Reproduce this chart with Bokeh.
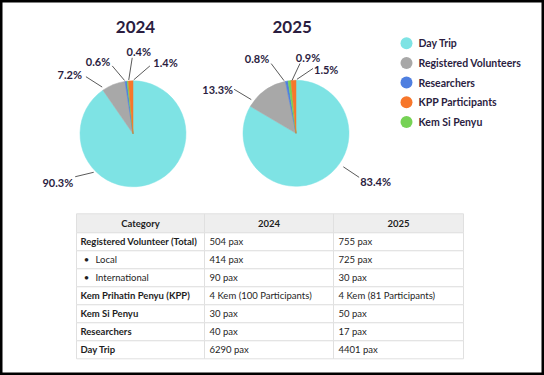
import math
from bokeh.plotting import figure
from bokeh.models import Range1d
from bokeh.core.properties import value
from bokeh.embed import file_html
from bokeh.resources import INLINE

# ---------------- data ----------------
years = ["2024", "2025"]
categories = ["Day Trip", "Registered Volunteers", "Researchers", "Kem Si Penyu", "KPP Participants"]
pct_2024 = [90.3, 7.2, 0.6, 0.4, 1.4]
pct_2025 = [83.4, 13.3, 0.8, 0.9, 1.5]
legend_order = ["Day Trip", "Registered Volunteers", "Researchers", "KPP Participants", "Kem Si Penyu"]

table_header = ["Category", "2024", "2025"]
table_category = ["Registered Volunteer (Total)", "Local", "International",
                  "Kem Prihatin Penyu (KPP)", "Kem Si Penyu", "Researchers", "Day Trip"]
table_is_sub = [False, True, True, False, False, False, False]
table_2024 = ["504 pax", "414 pax", "90 pax", "4 Kem (100 Participants)", "30 pax", "40 pax", "6290 pax"]
table_2025 = ["755 pax", "725 pax", "30 pax", "4 Kem (81 Participants)", "50 pax", "17 pax", "4401 pax"]

# ---------------- styles / layout ----------------
W, H = 544, 375
FONT = value("Lato")
TXT = "#2b1d3f"
colors = {"Day Trip": "#7ee3e4", "Registered Volunteers": "#a8a8a8", "Researchers": "#4f7fe0",
          "Kem Si Penyu": "#76d255", "KPP Participants": "#f7772b"}
pie_centers = [(132.5, 133.3), (295.5, 132.8)]
pie_r = 53
title_dx = [2.5, -3.8]
title_y = 26
# label layout per year (pie order): inner angle, inner r, outer angle, outer r, align, text dx, text dy
label_layout = [
    [(-134.4, 55, -126.6, 72, "right", -2, 6), (-33.4, 56, -39.5, 74, "right", -4, -2),
     (-9, 54, -17, 71, "right", -2, -4), (-4.5, 54, -0.6, 76, "center", 6.6, -6.3),
     (0.8, 54, 14, 70, "left", 3.4, -3.7)],
    [(125.3, 58, 124.9, 77, "left", 1, 4.5), (-53, 56, -54.6, 76, "right", -1, 0),
     (-12.8, 54, -19.6, 74, "right", -2, -5.5), (-4.3, 53, 3.3, 70, "center", 8, -5.5),
     (1, 54, 14.7, 67, "left", 1, 1)],
]
leg_x, leg_y0, leg_dy = 406, 42.7, 19.7
table_cols = [76, 204, 333, 463]
table_top, head_h, row_h = 213.3, 19, 18
TFS = "9.5px"
TTXT = "#1e1e1e"

def Y(y):
    return H - y

p = figure(width=W, height=H, x_range=Range1d(0, W), y_range=Range1d(0, H),
           output_backend="svg", toolbar_location=None, min_border=0,
           x_axis_location=None, y_axis_location=None)
p.grid.visible = False
p.background_fill_color = "white"
p.border_fill_color = "white"
p.outline_line_color = "black"
p.outline_line_width = 4

# ---------------- pies ----------------
for yi, (yr, vals) in enumerate(zip(years, [pct_2024, pct_2025])):
    cx, cy = pie_centers[yi]
    total = sum(vals)
    cum = 0.0
    st, en, cols = [], [], []
    for cat, v in zip(categories, vals):
        fs = cum / total
        cum += v
        fe = cum / total
        st.append(math.pi / 2 - 2 * math.pi * fe)
        en.append(math.pi / 2 - 2 * math.pi * fs)
        cols.append(colors[cat])
    p.wedge(x=[cx] * len(vals), y=[Y(cy)] * len(vals), radius=pie_r, start_angle=st, end_angle=en,
            fill_color=cols, line_color=cols, line_width=0.5)
    p.text(x=[cx + title_dx[yi]], y=[Y(title_y)], text=[yr], text_font=FONT, text_font_style="bold",
           text_font_size="17px", text_color=TXT, text_align="center", text_baseline="middle")
    x0s, y0s, x1s, y1s = [], [], [], []
    for (ai, ri, ao, ro, al, dx, dy), v in zip(label_layout[yi], vals):
        a1, a2 = math.radians(ai), math.radians(ao)
        ix, iy = cx + ri * math.sin(a1), cy - ri * math.cos(a1)
        ox, oy = cx + ro * math.sin(a2), cy - ro * math.cos(a2)
        x0s.append(ix); y0s.append(Y(iy)); x1s.append(ox); y1s.append(Y(oy))
        p.text(x=[ox + dx], y=[Y(oy + dy)], text=[f"{v}%"], text_font=FONT, text_font_style="bold",
               text_font_size="11px", text_color=TXT, text_align=al, text_baseline="middle")
    p.segment(x0=x0s, y0=y0s, x1=x1s, y1=y1s, line_color="#5a5a5a", line_width=1)

# ---------------- legend ----------------
for i, cat in enumerate(legend_order):
    yy = leg_y0 + i * leg_dy
    p.scatter(x=[leg_x], y=[Y(yy)], size=12, marker="circle", fill_color=colors[cat], line_color=None)
    p.text(x=[leg_x + 12], y=[Y(yy)], text=[cat], text_font=FONT, text_font_style="bold",
           text_font_size="10.5px", text_color=TXT, text_align="left", text_baseline="middle")

# ---------------- table ----------------
n = len(table_category)
tops = [table_top] + [table_top + head_h + i * row_h for i in range(n)]
bots = [table_top + head_h] + [table_top + head_h + (i + 1) * row_h for i in range(n)]
L, R, T, B, F = [], [], [], [], []
for r in range(n + 1):
    for c in range(3):
        L.append(table_cols[c]); R.append(table_cols[c + 1])
        T.append(Y(tops[r])); B.append(Y(bots[r]))
        F.append("#eeeeee" if r == 0 else "white")
p.quad(left=L, right=R, top=T, bottom=B, fill_color=F, line_color="#e0e0e0", line_width=1)

hc = (tops[0] + bots[0]) / 2
for c, h in enumerate(table_header):
    p.text(x=[(table_cols[c] + table_cols[c + 1]) / 2], y=[Y(hc)], text=[h], text_font=FONT,
           text_font_style="bold", text_font_size=TFS, text_color=TTXT,
           text_align="center", text_baseline="middle")
for i in range(n):
    yc = Y((tops[i + 1] + bots[i + 1]) / 2)
    if table_is_sub[i]:
        p.text(x=[table_cols[0] + 10], y=[yc], text=["•"], text_font=FONT, text_font_size=TFS,
               text_color=TTXT, text_align="center", text_baseline="middle")
        p.text(x=[table_cols[0] + 19], y=[yc], text=[table_category[i]], text_font=FONT,
               text_font_size=TFS, text_color=TTXT, text_align="left", text_baseline="middle")
    else:
        p.text(x=[table_cols[0] + 4], y=[yc], text=[table_category[i]], text_font=FONT,
               text_font_style="bold", text_font_size=TFS, text_color=TTXT,
               text_align="left", text_baseline="middle")
    for c, col in ((1, table_2024), (2, table_2025)):
        p.text(x=[table_cols[c] + 5], y=[yc], text=[col[i]], text_font=FONT, text_font_size=TFS,
               text_color=TTXT, text_align="left", text_baseline="middle")

open("out.html", "w").write(file_html(p, INLINE))
